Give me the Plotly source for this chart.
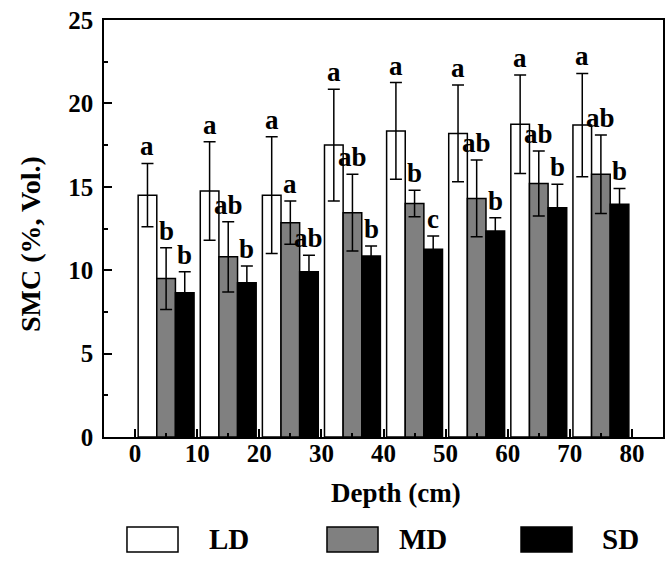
import plotly.graph_objects as go

# ---- data ----
depth_mid = [5, 15, 25, 35, 45, 55, 65, 75]
LD = [14.5, 14.75, 14.5, 17.5, 18.35, 18.2, 18.75, 18.7]
LD_err = [1.9, 2.95, 3.5, 3.35, 2.9, 2.9, 2.95, 3.1]
MD = [9.5, 10.8, 12.85, 13.45, 14.0, 14.3, 15.2, 15.75]
MD_err = [1.85, 2.1, 1.3, 2.3, 0.8, 2.3, 1.95, 2.35]
SD = [8.65, 9.25, 9.9, 10.85, 11.25, 12.35, 13.75, 13.95]
SD_err = [1.25, 1.0, 1.0, 0.6, 0.8, 0.8, 1.4, 0.95]
LD_letters = ["a", "a", "a", "a", "a", "a", "a", "a"]
MD_letters = ["b", "ab", "a", "ab", "b", "ab", "ab", "ab"]
SD_letters = ["b", "b", "ab", "b", "c", "b", "b", "b"]
x_ticks = [0, 10, 20, 30, 40, 50, 60, 70, 80]
y_ticks = [0, 5, 10, 15, 20, 25]

FONT = "Liberation Serif, Times New Roman, Times, serif"
bar_w = 3  # data units per bar

series = [
    ("LD", LD, LD_err, LD_letters, "#ffffff", -bar_w),
    ("MD", MD, MD_err, MD_letters, "#808080", 0),
    ("SD", SD, SD_err, SD_letters, "#000000", bar_w),
]

fig = go.Figure()
annotations = []
for name, vals, errs, letters, color, off in series:
    fig.add_trace(go.Bar(
        name=name, x=depth_mid, y=vals,
        marker=dict(color=color, line=dict(color="black", width=1.5)),
        error_y=dict(type="data", array=errs, visible=True,
                     color="black", thickness=1.5, width=6),
        showlegend=False,
    ))
    for xm, v, e, t in zip(depth_mid, vals, errs, letters):
        annotations.append(dict(
            x=xm + off, y=v + e, xref="x", yref="y", text="<b>%s</b>" % t,
            showarrow=False, yanchor="bottom", xanchor="center",
            font=dict(family=FONT, size=27, color="black"),
        ))

# axis titles
annotations.append(dict(
    x=-0.1324, y=0.4628, xref="paper", yref="paper", text="<b>SMC (%, Vol.)</b>",
    textangle=-90, showarrow=False, xanchor="center", yanchor="middle",
    font=dict(family=FONT, size=28, color="black")))
annotations.append(dict(
    x=0.5224, y=-0.134, xref="paper", yref="paper", text="<b>Depth (cm)</b>",
    showarrow=False, xanchor="center", yanchor="middle",
    font=dict(family=FONT, size=27, color="black")))

# manual legend
legend_items = [
    ("LD", "#ffffff", 0.0411, 0.1324, 0.1843),
    ("MD", "#808080", 0.3989, 0.4902, 0.5242),
    ("SD", "#000000", 0.7460, 0.8372, 0.8873),
]
shapes = []
for name, color, x0, x1, xt in legend_items:
    shapes.append(dict(type="rect", xref="paper", yref="paper",
                       x0=x0, x1=x1, y0=-0.2758, y1=-0.2158,
                       fillcolor=color, line=dict(color="black", width=1.5)))
    annotations.append(dict(
        x=xt, y=-0.2458, xref="paper", yref="paper", text="<b>%s</b>" % name,
        showarrow=False, xanchor="left", yanchor="middle",
        font=dict(family=FONT, size=29, color="black")))

fig.update_layout(
    width=669, height=565,
    margin=dict(l=104, r=6, t=20, b=128, autoexpand=False),
    paper_bgcolor="white", plot_bgcolor="white",
    barmode="group", bargap=0.1, bargroupgap=0,
    annotations=annotations, shapes=shapes,
    font=dict(family=FONT, color="black"),
)
fig.update_xaxes(
    range=[-5, 85], tickvals=x_ticks, ticktext=["<b>%d</b>" % v for v in x_ticks],
    ticks="inside", ticklen=8, tickwidth=1.5, tickcolor="black",
    minor=dict(dtick=5, tick0=5, ticks="inside", ticklen=4, tickwidth=1.5, tickcolor="black"),
    showline=True, linecolor="black", linewidth=1.5, mirror=True,
    showgrid=False, zeroline=False, automargin=False,
    tickfont=dict(family=FONT, size=25, color="black"),
    ticklabelstandoff=-7,
)
fig.update_yaxes(
    range=[0, 25], tickvals=y_ticks, ticktext=["<b>%d</b>" % v for v in y_ticks],
    ticks="inside", ticklen=8, tickwidth=1.5, tickcolor="black",
    minor=dict(dtick=2.5, tick0=0, ticks="inside", ticklen=4, tickwidth=1.5, tickcolor="black"),
    showline=True, linecolor="black", linewidth=1.5, mirror=True,
    showgrid=False, zeroline=False, automargin=False,
    tickfont=dict(family=FONT, size=25, color="black"),
    ticklabelstandoff=4,
)

fig.write_html("out.html", config={"displayModeBar": False},
               post_script="document.body.style.margin='0';document.body.style.overflow='hidden';")
